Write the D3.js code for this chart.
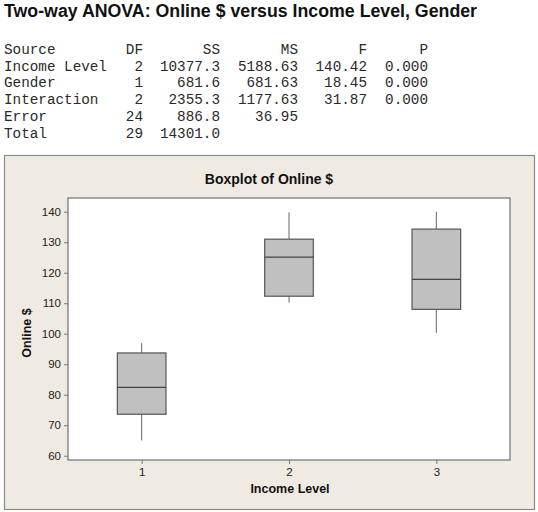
<!DOCTYPE html>
<head>
	<meta charset="UTF-8">
	<script src="https://d3js.org/d3.v7.min.js"></script>
	<style>
		body { margin: 0; background: #fff; }
	</style>
</head>
<body>
	<div id="chart"></div>
<script>

// ANOVA table
const sources = ["Income Level", "Gender", "Interaction", "Error", "Total"];
const dfs = ["2", "1", "2", "24", "29"];
const ss = ["10377.3", "681.6", "2355.3", "886.8", "14301.0"];
const ms = ["5188.63", "681.63", "1177.63", "36.95", ""];
const fs = ["140.42", "18.45", "31.87", "", ""];
const ps = ["0.000", "0.000", "0.000", "", ""];
const headers = ["Source", "DF", "SS", "MS", "F", "P"];

// boxplot summary per income level
const levels = [1, 2, 3];
const whiskerLow = [65.0, 110.2, 100.3];
const q1 = [73.6, 112.3, 108.0];
const median = [82.4, 125.1, 117.8];
const q3 = [93.7, 131.0, 134.3];
const whiskerHigh = [96.9, 139.8, 140.0];
const yTicks = [60, 70, 80, 90, 100, 110, 120, 130, 140];

const width = 538, height = 512;

const svg = d3.select("#chart").append("svg")
  .attr("width", width)
  .attr("height", height);

svg.append("text")
  .attr("x", 4)
  .attr("y", 17)
  .attr("font-family", "Liberation Sans, Arial, sans-serif")
  .attr("font-weight", "bold")
  .attr("font-size", 17.5)
  .attr("textLength", 473)
  .attr("lengthAdjust", "spacingAndGlyphs")
  .attr("fill", "#111")
  .text("Two-way ANOVA: Online $ versus Income Level, Gender");

// table: first column left aligned, rest right aligned at column edges
const colRight = [null, 143, 220, 298, 367, 428];
const rows = sources.map((s, i) => [s, dfs[i], ss[i], ms[i], fs[i], ps[i]]);
const allRows = [headers].concat(rows);
const table = svg.append("g")
  .attr("font-family", "Liberation Mono, Courier New, monospace")
  .attr("font-size", 14.3)
  .attr("fill", "#2a2a2a");

allRows.forEach((r, i) => {
  const y = 54 + i * 16.7;
  r.forEach((cell, j) => {
    if (!cell) return;
    table.append("text")
      .attr("x", j === 0 ? 4 : colRight[j])
      .attr("y", y)
      .attr("text-anchor", j === 0 ? "start" : "end")
      .attr("xml:space", "preserve")
      .text(cell);
  });
});

// graph panel
svg.append("rect")
  .attr("x", 4.5).attr("y", 155.5)
  .attr("width", 530).attr("height", 354)
  .attr("fill", "#efebe2")
  .attr("stroke", "#8a8a8a")
  .attr("stroke-width", 1.2);

const plot = {left: 68, top: 198, right: 510, bottom: 460};

const x = d3.scaleLinear().domain([0.5, 3.5]).range([plot.left, plot.right]);
const y = d3.scaleLinear().domain([58.6, 144.5]).range([plot.bottom, plot.top]);

svg.append("rect")
  .attr("x", plot.left).attr("y", plot.top)
  .attr("width", plot.right - plot.left).attr("height", plot.bottom - plot.top)
  .attr("fill", "#fff")
  .attr("stroke", "#7a7a7a")
  .attr("stroke-width", 1.3);

svg.append("text")
  .attr("x", 269)
  .attr("y", 184)
  .attr("text-anchor", "middle")
  .attr("font-family", "Liberation Sans, Arial, sans-serif")
  .attr("font-weight", "bold")
  .attr("font-size", 14)
  .attr("fill", "#111")
  .text("Boxplot of Online $");

const yAxis = svg.append("g")
  .attr("transform", `translate(${plot.left},0)`)
  .call(d3.axisLeft(y).tickValues(yTicks).tickSize(4).tickPadding(3));
const xAxis = svg.append("g")
  .attr("transform", `translate(0,${plot.bottom})`)
  .call(d3.axisBottom(x).tickValues(levels).tickFormat(d3.format("d")).tickSize(4).tickPadding(4));

[yAxis, xAxis].forEach(a => {
  a.select(".domain").remove();
  a.selectAll(".tick line").attr("stroke", "#777");
  a.selectAll(".tick text")
    .attr("font-family", "Liberation Sans, Arial, sans-serif")
    .attr("font-size", 11.5)
    .attr("fill", "#222");
});

svg.append("text")
  .attr("x", 290)
  .attr("y", 493)
  .attr("text-anchor", "middle")
  .attr("font-family", "Liberation Sans, Arial, sans-serif")
  .attr("font-weight", "bold")
  .attr("font-size", 12.5)
  .attr("fill", "#111")
  .text("Income Level");

svg.append("text")
  .attr("transform", `translate(31,${(plot.top + plot.bottom) / 2 + 4}) rotate(-90)`)
  .attr("text-anchor", "middle")
  .attr("font-family", "Liberation Sans, Arial, sans-serif")
  .attr("font-weight", "bold")
  .attr("font-size", 12.5)
  .attr("fill", "#111")
  .text("Online $");

// boxes
const boxW = x(1.165) - x(0.835);
const g = svg.append("g");
levels.forEach((lv, i) => {
  const cx = x(lv);
  g.append("line")
    .attr("x1", cx).attr("x2", cx)
    .attr("y1", y(whiskerHigh[i])).attr("y2", y(q3[i]))
    .attr("stroke", "#666").attr("stroke-width", 1);
  g.append("line")
    .attr("x1", cx).attr("x2", cx)
    .attr("y1", y(q1[i])).attr("y2", y(whiskerLow[i]))
    .attr("stroke", "#666").attr("stroke-width", 1);
  g.append("rect")
    .attr("x", cx - boxW / 2)
    .attr("y", y(q3[i]))
    .attr("width", boxW)
    .attr("height", y(q1[i]) - y(q3[i]))
    .attr("fill", "#c0c0c0")
    .attr("stroke", "#555")
    .attr("stroke-width", 1.2);
  g.append("line")
    .attr("x1", cx - boxW / 2).attr("x2", cx + boxW / 2)
    .attr("y1", y(median[i])).attr("y2", y(median[i]))
    .attr("stroke", "#444").attr("stroke-width", 1.2);
});

</script>
</body>
</html>
